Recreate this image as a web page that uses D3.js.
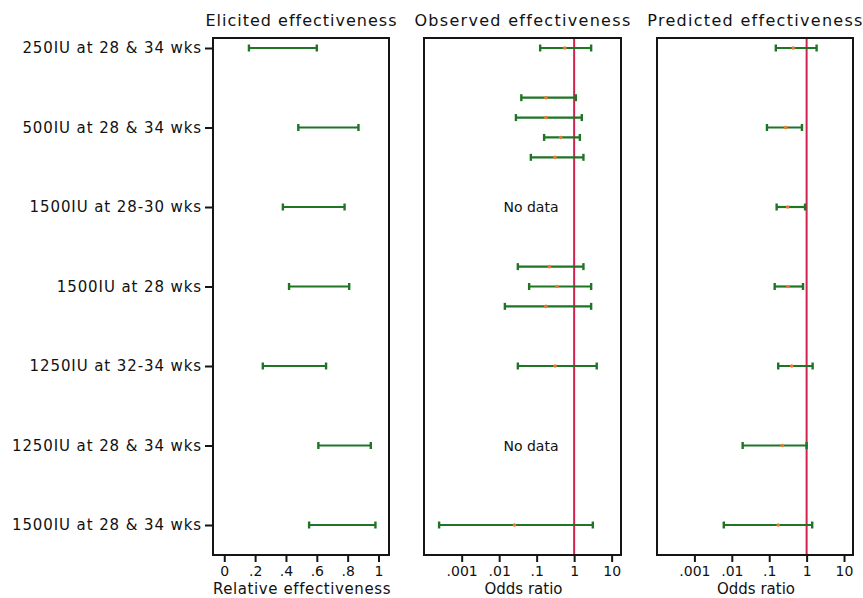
<!DOCTYPE html>
<html>
<head>
<meta charset="utf-8">
<script src="https://cdn.jsdelivr.net/npm/d3@7"></script>
<style>
  html, body { margin: 0; padding: 0; background: #fff; }
  svg { display: block; }
  text { font-family: "DejaVu Sans", Verdana, sans-serif; fill: #111; }
</style>
</head>
<body>
<svg id="chart" width="863" height="598"></svg>
<script>
// ---------------- data ----------------
const categories = [
  "250IU at 28 & 34 wks",
  "500IU at 28 & 34 wks",
  "1500IU at 28-30 wks",
  "1500IU at 28 wks",
  "1250IU at 32-34 wks",
  "1250IU at 28 & 34 wks",
  "1500IU at 28 & 34 wks"
];

// Elicited relative effectiveness intervals
const elicitedLow  = [0.16, 0.48, 0.38, 0.42, 0.25, 0.61, 0.55];
const elicitedHigh = [0.60, 0.87, 0.78, 0.81, 0.66, 0.95, 0.98];

// Observed odds ratios (one per study), category index of each study
const observedCat = [0, 1, 1, 1, 1, 3, 3, 3, 4, 6];
const observedOR  = [0.56, 0.176, 0.176, 0.44, 0.31, 0.22, 0.35, 0.176, 0.31, 0.0256];
const observedLow = [0.124, 0.039, 0.028, 0.158, 0.07, 0.0315, 0.063, 0.0142, 0.0315, 0.00025];
const observedHigh= [2.84, 1.11, 1.6, 1.42, 1.77, 1.77, 2.84, 2.84, 4.0, 3.15];
const noDataCats  = [2, 5];

// Predicted odds ratios
const predictedOR  = [0.44, 0.275, 0.31, 0.316, 0.40, 0.223, 0.174];
const predictedLow = [0.15, 0.087, 0.158, 0.14, 0.174, 0.0195, 0.0061];
const predictedHigh= [1.85, 0.75, 0.91, 0.80, 1.45, 1.00, 1.41];

// Tick values and labels
const relTicks  = [0, 0.2, 0.4, 0.6, 0.8, 1];
const relLabels = ["0", ".2", ".4", ".6", ".8", "1"];
const orTicks   = [0.001, 0.01, 0.1, 1, 10];
const orLabels  = [".001", ".01", ".1", "1", "10"];

const titles = ["Elicited effectiveness", "Observed effectiveness", "Predicted effectiveness"];
const xTitles = ["Relative effectiveness", "Odds ratio", "Odds ratio"];

// ---------------- layout ----------------
const TOP = 38, BOTTOM = 555;
const panels = [
  { x0: 213, x1: 389, scale: d3.scaleLinear().domain([-0.073, 1.068]) },
  { x0: 424, x1: 621, scale: d3.scaleLog().domain([Math.pow(10, -4.005), Math.pow(10, 1.25)]) },
  { x0: 657, x1: 853, scale: d3.scaleLog().domain([Math.pow(10, -4.0), Math.pow(10, 1.24)]) }
];
panels.forEach(p => p.scale.range([p.x0, p.x1]));

const y = d3.scaleLinear().domain([0, categories.length - 1]).range([48, 525]);
const SUB = 0.25; // sub-row step for multiple studies in one category

const GREEN = "#1f7526", ORANGE = "#f07828", RED = "#d2234f", FRAME = "#151515";
const CAP = 3.5;

const svg = d3.select("#chart");

// titles
panels.forEach((p, i) => {
  svg.append("text")
    .attr("x", (p.x0 + p.x1) / 2 + 0.5)
    .attr("y", 26)
    .attr("text-anchor", "middle")
    .attr("font-size", 16)
    .attr("letter-spacing", i === 0 ? 1.0 : 1.3)
    .text(titles[i]);
});

// error bar helper
function errorBar(g, xs, yPix, lo, hi, est) {
  g.append("line").attr("x1", xs(lo)).attr("x2", xs(hi)).attr("y1", yPix).attr("y2", yPix)
    .attr("stroke", GREEN).attr("stroke-width", 2.2);
  [lo, hi].forEach(v => {
    g.append("line").attr("x1", xs(v)).attr("x2", xs(v)).attr("y1", yPix - CAP).attr("y2", yPix + CAP)
      .attr("stroke", GREEN).attr("stroke-width", 2.4);
  });
  if (est !== undefined) {
    g.append("circle").attr("cx", xs(est)).attr("cy", yPix).attr("r", 1.8).attr("fill", ORANGE);
  }
}

// ---- panel 1: elicited ----
{
  const p = panels[0], xs = p.scale;
  const g = svg.append("g");
  categories.forEach((c, i) => errorBar(g, xs, y(i), elicitedLow[i], elicitedHigh[i]));
}

// ---- panel 2: observed ----
{
  const p = panels[1], xs = p.scale;
  const g = svg.append("g");
  g.append("line").attr("x1", xs(1)).attr("x2", xs(1)).attr("y1", TOP).attr("y2", BOTTOM)
    .attr("stroke", RED).attr("stroke-width", 2);
  const counts = {}, seen = {};
  observedCat.forEach(c => counts[c] = (counts[c] || 0) + 1);
  observedCat.forEach((c, k) => {
    const idx = seen[c] = (seen[c] === undefined ? 0 : seen[c] + 1);
    const pos = c + (idx - (counts[c] - 1) / 2) * SUB;
    errorBar(g, xs, y(pos), observedLow[k], observedHigh[k], observedOR[k]);
  });
  noDataCats.forEach(c => {
    g.append("text").attr("x", 531).attr("y", y(c) + 5)
      .attr("text-anchor", "middle").attr("font-size", 14).text("No data");
  });
}

// ---- panel 3: predicted ----
{
  const p = panels[2], xs = p.scale;
  const g = svg.append("g");
  g.append("line").attr("x1", xs(1)).attr("x2", xs(1)).attr("y1", TOP).attr("y2", BOTTOM)
    .attr("stroke", RED).attr("stroke-width", 2);
  categories.forEach((c, i) => errorBar(g, xs, y(i), predictedLow[i], predictedHigh[i], predictedOR[i]));
}

// frames and x axes
panels.forEach((p, i) => {
  svg.append("rect").attr("x", p.x0).attr("y", TOP).attr("width", p.x1 - p.x0).attr("height", BOTTOM - TOP)
    .attr("fill", "none").attr("stroke", FRAME).attr("stroke-width", 2);
  const ticks = i === 0 ? relTicks : orTicks;
  const labels = i === 0 ? relLabels : orLabels;
  const ax = d3.axisBottom(p.scale).tickValues(ticks)
    .tickFormat((d, k) => labels[k]).tickSize(7).tickPadding(4);
  const ag = svg.append("g").attr("transform", `translate(0,${BOTTOM})`).call(ax);
  ag.select(".domain").remove();
  ag.selectAll(".tick line").attr("stroke", FRAME).attr("stroke-width", 2);
  ag.selectAll(".tick text").attr("font-size", 14).attr("font-family", '"DejaVu Sans", Verdana, sans-serif')
    .attr("fill", "#111");
  svg.append("text").attr("x", (p.x0 + p.x1) / 2 + 1).attr("y", 594)
    .attr("text-anchor", "middle").attr("font-size", 15)
    .attr("letter-spacing", i === 0 ? 0.6 : 0)
    .text(xTitles[i]);
});

// y axis (category labels) on the first panel
{
  const yAx = d3.axisLeft(y).tickValues(d3.range(categories.length))
    .tickFormat(k => categories[k]).tickSize(8).tickPadding(3);
  const yg = svg.append("g").attr("transform", `translate(${panels[0].x0},0)`).call(yAx);
  yg.select(".domain").remove();
  yg.selectAll(".tick line").attr("stroke", FRAME).attr("stroke-width", 2);
  yg.selectAll(".tick text").attr("font-size", 15).attr("letter-spacing", 0.9)
    .attr("font-family", '"DejaVu Sans", Verdana, sans-serif')
    .attr("fill", "#111");
}
</script>
</body>
</html>
